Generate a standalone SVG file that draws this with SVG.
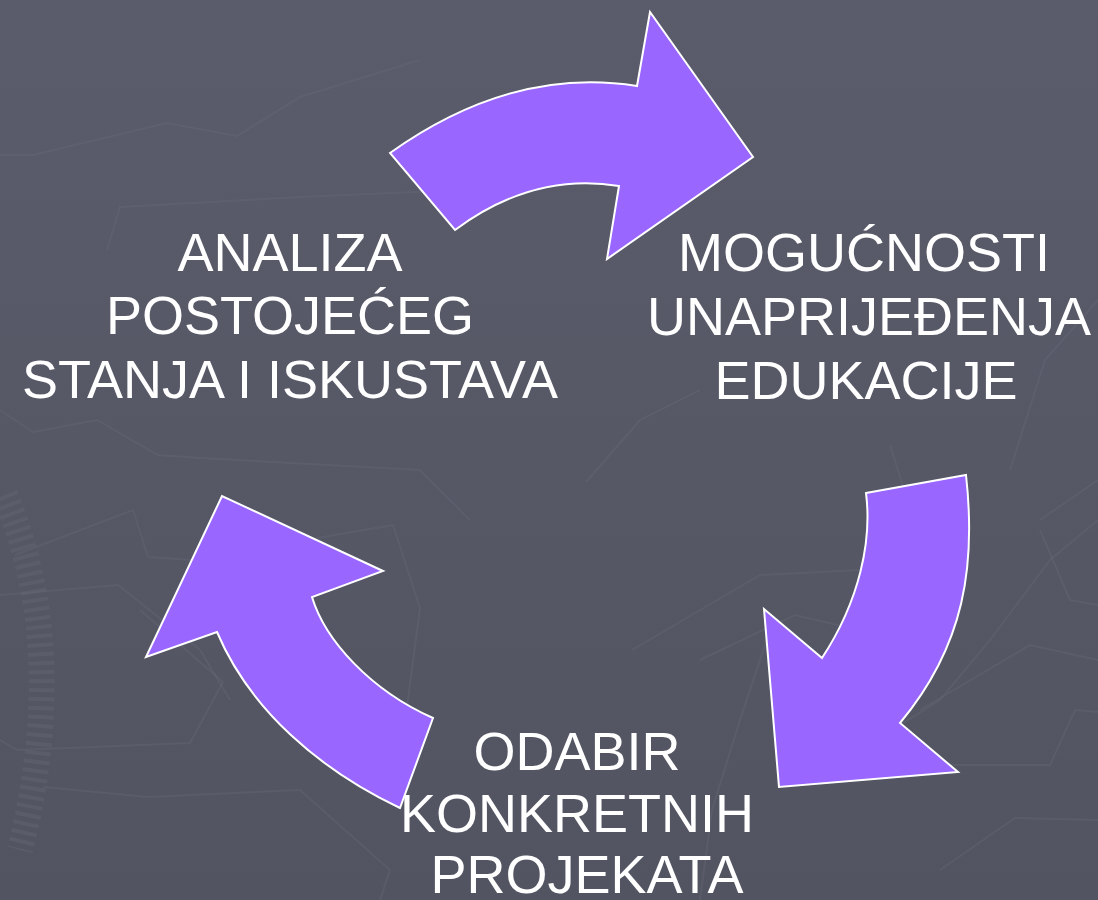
<svg xmlns="http://www.w3.org/2000/svg" width="1098" height="900" viewBox="0 0 1098 900">
  <defs>
    <linearGradient id="bg" x1="0" y1="0" x2="0" y2="1">
      <stop offset="0" stop-color="#5b5c6b"/>
      <stop offset="1" stop-color="#525461"/>
    </linearGradient>
  </defs>
  <style>
    .deco { fill: none; stroke: #6a6c7b; stroke-width: 2; opacity: 0.3; }
    .ticks { fill: none; stroke: #646674; stroke-width: 26; stroke-dasharray: 4 5; opacity: 0.45; }
    .arrow { fill: #9966ff; stroke: #ffffff; stroke-width: 2; stroke-linejoin: miter; }
    .label { font-family: "Liberation Sans", Arial, sans-serif; font-size: 54px; fill: #ffffff; text-anchor: middle; }
  </style>
  <rect x="0" y="0" width="1098" height="900" fill="url(#bg)"/>

  <g id="background-lines">
    <polyline class="deco" points="0,155 33,155 167,123 237,136 300,97 420,60"/>
    <polyline class="deco" points="107,250 120,207 300,197 460,190"/>
    <polyline class="deco" points="0,410 33,432 97,420 158,455 200,458 420,470 470,520"/>
    <polyline class="deco" points="15,555 133,510 148,557 190,560 393,525 420,608 400,760"/>
    <polyline class="deco" points="0,595 118,585 200,650 230,700"/>
    <polyline class="deco" points="0,740 17,750 190,743 223,682 140,610"/>
    <polyline class="deco" points="43,787 148,797 300,790 390,870 380,900"/>
    <polyline class="deco" points="586,482 640,420 700,390"/>
    <polyline class="deco" points="632,650 760,575 860,570"/>
    <polyline class="deco" points="700,660 795,615 850,628"/>
    <polyline class="deco" points="770,630 740,720 712,810 700,900"/>
    <polyline class="deco" points="900,725 940,700 990,640 1050,560 1098,520"/>
    <polyline class="deco" points="920,710 1030,645 1098,660"/>
    <polyline class="deco" points="940,765 1050,765 1075,710 1098,712"/>
    <polyline class="deco" points="940,870 1015,818 1098,820"/>
    <polyline class="deco" points="1040,530 1070,600 1098,605"/>
    <polyline class="deco" points="1010,470 1045,360 1098,300"/>
    <polyline class="deco" points="890,445 920,540 930,620"/>
    <polyline class="deco" points="1040,520 1098,480"/>
    <path class="ticks" d="M5,495 Q70,650 20,850"/>
  </g>

  <g id="connectors">
    <path id="arrow-top" class="arrow" d="M390,153 Q512,66 637,86 L650,12 L753,157 L607,259 L619,186 Q533,172 455,230 Z"/>
    <path id="arrow-right" class="arrow" d="M866,493 L966,475 C976,565 965,645 900,723 L958,772 L779,787 L764,609 L822,658 C860,600 872,540 866,493 Z"/>
    <path id="arrow-left" class="arrow" d="M433,718 L400,808 C320,770 250,710 217,632 L146,657 L222,496 L383,571 L312,597 C325,640 370,690 433,718 Z"/>
  </g>

  <g id="node-analiza">
    <text class="label" x="290" y="271">ANALIZA</text>
    <text class="label" x="290" y="334">POSTOJEĆEG</text>
    <text class="label" x="290" y="398">STANJA I ISKUSTAVA</text>
  </g>

  <g id="node-mogucnosti">
    <text class="label" x="864" y="271">MOGUĆNOSTI</text>
    <text class="label" x="869" y="335">UNAPRIJEĐENJA</text>
    <text class="label" x="866" y="399">EDUKACIJE</text>
  </g>

  <g id="node-odabir">
    <text class="label" x="577" y="770">ODABIR</text>
    <text class="label" x="577" y="832">KONKRETNIH</text>
    <text class="label" x="587" y="893">PROJEKATA</text>
  </g>
</svg>
